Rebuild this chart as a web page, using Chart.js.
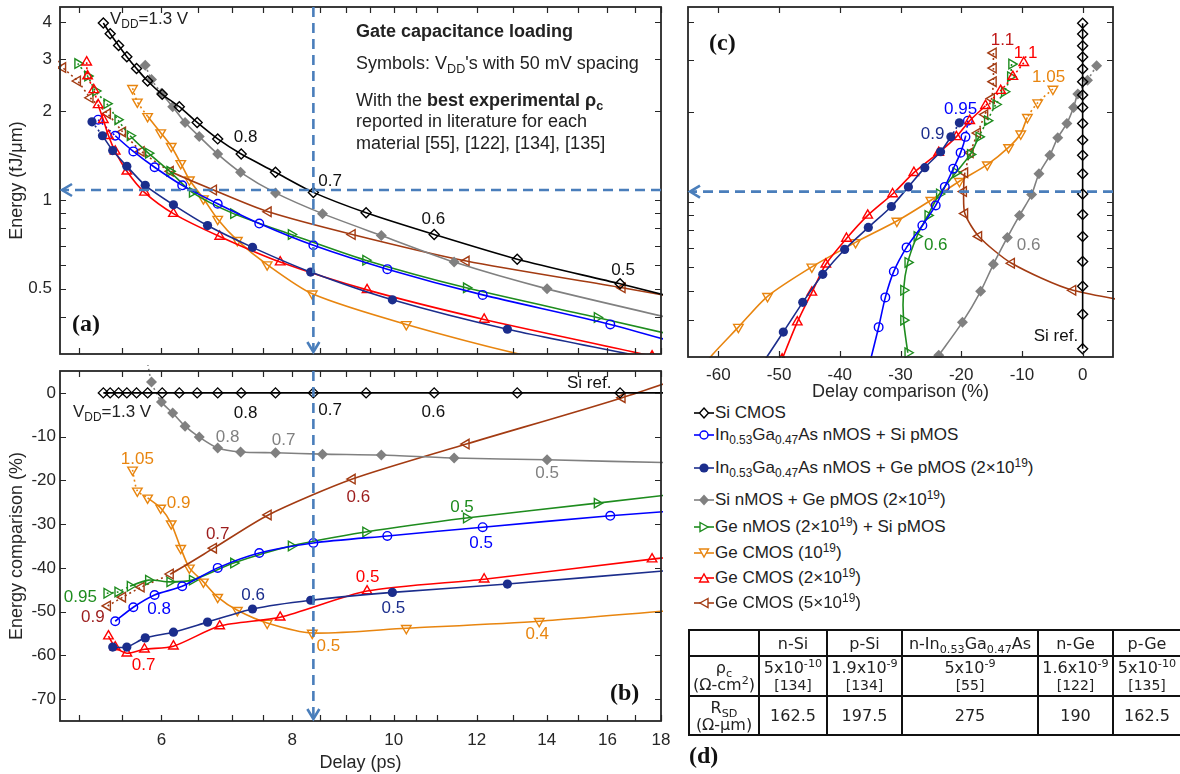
<!DOCTYPE html>
<html><head><meta charset="utf-8">
<script src="https://cdn.jsdelivr.net/npm/chart.js@4.4.1/dist/chart.umd.min.js"></script>
<style>
html,body{margin:0;padding:0;background:#fff;}
body{width:1180px;height:774px;position:relative;overflow:hidden;font-family:"Liberation Sans",Arial,sans-serif;color:#222;}
canvas{position:absolute;}
.t{position:absolute;white-space:nowrap;font-size:18px;line-height:20px;color:#222;}
.pl{position:absolute;font-family:"Liberation Serif","Times New Roman",serif;font-weight:bold;font-size:24px;line-height:26px;color:#111;}
sub{font-size:0.7em;vertical-align:-0.35em;line-height:0;}
sup{font-size:0.7em;vertical-align:0.5em;line-height:0;}
.lg{position:absolute;left:693px;white-space:nowrap;font-size:17px;line-height:20px;color:#222;}
.lg svg{vertical-align:-3px;}
#tbl{position:absolute;left:688px;top:629px;border-collapse:collapse;table-layout:fixed;width:492px;font-family:"DejaVu Sans",Verdana,sans-serif;font-size:16px;color:#222;}
#tbl td{border:2px solid #111;text-align:center;padding:0;line-height:17px;white-space:nowrap;}
#tbl .rf{font-size:14px;}
</style></head><body>
<canvas id="ca" width="680" height="362" style="left:0;top:0"></canvas>
<canvas id="cb" width="680" height="412" style="left:0;top:362px"></canvas>
<canvas id="cc" width="500" height="403" style="left:680px;top:0"></canvas>

<div class="t" style="left:110px;top:9px;font-size:17px">V<sub>DD</sub>=1.3 V</div>
<div class="t" style="left:356px;top:21px;font-weight:bold">Gate capacitance loading</div>
<div class="t" style="left:356px;top:53px">Symbols: V<sub>DD</sub>'s with 50 mV spacing</div>
<div class="t" style="left:356px;top:90px">With the <b>best experimental ρ<sub>c</sub></b></div>
<div class="t" style="left:356px;top:111px">reported in literature for each</div>
<div class="t" style="left:356px;top:133px">material [55], [122], [134], [135]</div>
<div class="pl" style="left:72px;top:310px">(a)</div>
<div class="t" style="left:73px;top:402px;font-size:17px">V<sub>DD</sub>=1.3 V</div>
<div class="pl" style="left:610px;top:679px">(b)</div>
<div class="pl" style="left:709px;top:29px">(c)</div>
<div class="pl" style="left:689px;top:742px">(d)</div>

<div class="lg" style="top:403px"><svg width="22" height="16"><line x1="1" y1="8" x2="21" y2="8" stroke="#000" stroke-width="1.6"/><polygon points="11,3 15.5,8 11,13 6.5,8" fill="#fff" stroke="#000" stroke-width="1.4"/></svg>Si CMOS</div>
<div class="lg" style="top:425px"><svg width="22" height="16"><line x1="1" y1="8" x2="21" y2="8" stroke="#0000ff" stroke-width="1.6"/><circle cx="11" cy="8" r="4" fill="#fff" stroke="#0000ff" stroke-width="1.4"/></svg>In<sub>0.53</sub>Ga<sub>0.47</sub>As nMOS + Si pMOS</div>
<div class="lg" style="top:458px"><svg width="22" height="16"><line x1="1" y1="8" x2="21" y2="8" stroke="#1b2d8c" stroke-width="1.6"/><circle cx="11" cy="8" r="4.6" fill="#1b2d8c"/></svg>In<sub>0.53</sub>Ga<sub>0.47</sub>As nMOS + Ge pMOS (2×10<sup>19</sup>)</div>
<div class="lg" style="top:490px"><svg width="22" height="16"><line x1="1" y1="8" x2="21" y2="8" stroke="#808080" stroke-width="1.6"/><polygon points="11,2.5 16,8 11,13.5 6,8" fill="#808080"/></svg>Si nMOS + Ge pMOS (2×10<sup>19</sup>)</div>
<div class="lg" style="top:517px"><svg width="22" height="16"><line x1="1" y1="8" x2="21" y2="8" stroke="#1e8c1e" stroke-width="1.6"/><polygon points="7,3.5 15,8 7,12.5" fill="#fff" stroke="#1e8c1e" stroke-width="1.4"/></svg>Ge nMOS (2×10<sup>19</sup>) + Si pMOS</div>
<div class="lg" style="top:543px"><svg width="22" height="16"><line x1="1" y1="8" x2="21" y2="8" stroke="#e8850f" stroke-width="1.6"/><polygon points="6.5,4 15.5,4 11,12" fill="#fff" stroke="#e8850f" stroke-width="1.4"/></svg>Ge CMOS (10<sup>19</sup>)</div>
<div class="lg" style="top:568px"><svg width="22" height="16"><line x1="1" y1="8" x2="21" y2="8" stroke="#ff0000" stroke-width="1.6"/><polygon points="6.5,12 15.5,12 11,4" fill="#fff" stroke="#ff0000" stroke-width="1.4"/></svg>Ge CMOS (2×10<sup>19</sup>)</div>
<div class="lg" style="top:593px"><svg width="22" height="16"><line x1="1" y1="8" x2="21" y2="8" stroke="#a33b12" stroke-width="1.6"/><polygon points="15,3.5 7,8 15,12.5" fill="#fff" stroke="#a33b12" stroke-width="1.4"/></svg>Ge CMOS (5×10<sup>19</sup>)</div>

<table id="tbl">
<colgroup><col style="width:70px"><col style="width:68px"><col style="width:75px"><col style="width:136px"><col style="width:75px"><col style="width:68px"></colgroup>
<tr style="height:26px"><td></td><td>n-Si</td><td>p-Si</td><td>n-In<sub>0.53</sub>Ga<sub>0.47</sub>As</td><td>n-Ge</td><td>p-Ge</td></tr>
<tr style="height:40px"><td>ρ<sub>c</sub><br>(Ω-cm<sup>2</sup>)</td><td>5x10<sup>-10</sup><br><span class="rf">[134]</span></td><td>1.9x10<sup>-9</sup><br><span class="rf">[134]</span></td><td>5x10<sup>-9</sup><br><span class="rf">[55]</span></td><td>1.6x10<sup>-9</sup><br><span class="rf">[122]</span></td><td>5x10<sup>-10</sup><br><span class="rf">[135]</span></td></tr>
<tr style="height:39px"><td>R<sub>SD</sub><br>(Ω-μm)</td><td>162.5</td><td>197.5</td><td>275</td><td>190</td><td>162.5</td></tr>
</table>

<script>
// ---------- DATA ----------
// Si CMOS
const siV      = [1.3,1.25,1.2,1.15,1.1,1.05,1.0,0.95,0.9,0.85,0.8,0.75,0.7,0.65,0.6,0.55,0.5,0.45,0.4];
const siDelay  = [5.28,5.36,5.46,5.56,5.68,5.82,6.01,6.24,6.49,6.79,7.15,7.71,8.38,9.41,10.93,13.12,16.45,21.0,29.0];
const siEnergy = [3.98,3.66,3.34,3.06,2.79,2.53,2.28,2.07,1.83,1.61,1.43,1.24,1.06,0.904,0.763,0.629,0.519,0.418,0.32];
const siECmp   = [0,0,0,0,0,0,0,0,0,0,0,0,0,0,0,0,0,0,0];
const siDCmp   = [0,0,0,0,0,0,0,0,0,0,0,0,0,0,0,0,0,0,0];
// In0.53Ga0.47As nMOS + Si pMOS
const igsV      = [0.95,0.9,0.85,0.8,0.75,0.7,0.65,0.6,0.55,0.5,0.45,0.4];
const igsDelay  = [5.22,5.42,5.64,5.91,6.28,6.79,7.44,8.38,9.86,12.16,16.1,21.0];
const igsEnergy = [1.87,1.65,1.46,1.29,1.12,0.97,0.831,0.701,0.582,0.476,0.378,0.29];
const igsECmp   = [null,-52.2,-49.0,-46.2,-44.2,-40.0,-36.6,-34.3,-32.7,-30.7,-28.1,-26.0];
const igsDCmp   = [-18.9,-19.3,-20.1,-21.3,-22.7,-24.2,-26.4,-29.0,-31.1,-32.5,-33.6,-35.0];
// In0.53Ga0.47As nMOS + Ge pMOS (2e19)
const iggV      = [0.95,0.9,0.85,0.8,0.75,0.7,0.65,0.6,0.55,0.5,0.45,0.4];
const iggDelay  = [5.15,5.27,5.39,5.56,5.79,6.16,6.64,7.33,8.33,9.97,12.84,18.5];
const iggEnergy = [1.84,1.65,1.47,1.30,1.12,0.962,0.818,0.69,0.569,0.458,0.364,0.28];
const iggECmp   = [null,null,-58.1,-58.1,-56.0,-54.7,-52.4,-49.4,-47.4,-45.6,-43.7,-40.5];
const iggDCmp   = [-20.3,-21.7,-23.4,-26.0,-28.7,-31.5,-35.3,-39.2,-42.8,-46.1,-49.3,-53.0];
// Si nMOS + Ge pMOS (2e19)
const sgV      = [1.1,1.05,1.0,0.95,0.9,0.85,0.8,0.75,0.7,0.65,0.6,0.55,0.5,0.45,0.4];
const sgDelay  = [5.79,5.87,6.0,6.15,6.32,6.52,6.79,7.14,7.71,8.55,9.73,11.42,14.01,18.6,25.0];
const sgEnergy = [2.86,2.56,2.30,2.07,1.83,1.64,1.43,1.24,1.056,0.898,0.757,0.615,0.499,0.393,0.304];
const sgECmp   = [10,2.5,-2.1,-4.6,-7.6,-10.1,-12.6,-13.5,-13.7,-14.0,-14.2,-14.9,-15.3,-16.0,-16.5];
const sgDCmp   = [2.3,0.8,-0.8,-1.5,-2.6,-4.1,-5.4,-7.2,-8.4,-10.4,-12.4,-14.7,-16.8,-19.8,-23.7];
// Ge nMOS (2e19) + Si pMOS
const gsV      = [1.1,1.05,1.0,0.95,0.9,0.85,0.8,0.75,0.7,0.65,0.6,0.55,0.5,0.45,0.4];
const gsDelay  = [4.99,5.10,5.19,5.32,5.45,5.60,5.83,6.11,6.42,7.03,7.98,9.40,11.73,15.64,21.3];
const gsEnergy = [2.90,2.63,2.34,2.12,1.87,1.65,1.44,1.25,1.06,0.898,0.763,0.624,0.503,0.399,0.31];
const gsECmp   = [null,null,null,-45.8,-45.5,-44.2,-42.8,-43.2,-42.8,-38.9,-35.0,-31.8,-28.6,-25.2,-21.5];
const gsDCmp   = [-11.7,-11.9,-12.9,-14.3,-15.7,-17.1,-18.5,-20.9,-23.6,-25.5,-27.3,-28.8,-29.5,-29.5,-28.8];
// Ge CMOS (1e19)
const g1V      = [1.05,1.0,0.95,0.9,0.85,0.8,0.75,0.7,0.65,0.6,0.55,0.5,0.45,0.4,0.35];
const g1Delay  = [5.63,5.69,5.82,5.99,6.13,6.26,6.38,6.58,6.79,7.09,7.57,8.36,10.28,13.77,20.0];
const g1Energy = [2.39,2.15,1.92,1.69,1.52,1.33,1.17,1.01,0.86,0.729,0.603,0.48,0.378,0.289,0.22];
const g1ECmp   = [-17.6,-22.4,-24.0,-26.3,-29.9,-35.5,-40.0,-43.2,-46.7,-49.7,-52.6,-54.9,-53.8,-52.2,-49.0];
const g1DCmp   = [-4.9,-7.4,-9.1,-10.2,-12.2,-15.7,-20.3,-25.0,-30.6,-37.4,-44.6,-51.9,-56.7,-62.0,-66.0];
// Ge CMOS (2e19)
const g2V      = [1.1,1.05,1.0,0.95,0.9,0.85,0.8,0.75,0.7,0.65,0.6,0.55,0.5,0.45,0.4,0.35];
const g2Delay  = [5.09,5.10,5.17,5.22,5.28,5.34,5.42,5.56,5.78,6.16,6.82,7.79,9.43,12.2,17.65,25.0];
const g2Energy = [2.93,2.63,2.36,2.10,1.87,1.65,1.46,1.25,1.06,0.898,0.751,0.615,0.495,0.393,0.295,0.22];
const g2ECmp   = [null,null,null,null,null,-55.6,-58.1,-59.5,-58.6,-57.9,-53.3,-51.3,-45.3,-42.6,-38.0,-34.0];
const g2DCmp   = [-9.7,-11.5,-13.5,-16.0,-18.6,-20.8,-23.7,-27.8,-31.3,-35.4,-38.9,-42.3,-44.6,-47.0,-49.5,-52.0];
// Ge CMOS (5e19)
const g5V      = [1.1,1.05,1.0,0.95,0.9,0.85,0.8,0.75,0.7,0.65,0.6,0.55,0.5,0.45];
const g5Delay  = [4.71,4.83,4.99,5.13,5.33,5.51,5.74,6.12,6.73,7.59,9.13,11.73,16.53,22.0];
const g5Energy = [3.16,2.81,2.53,2.22,1.96,1.70,1.46,1.25,1.08,0.911,0.763,0.62,0.503,0.42];
const g5ECmp   = [null,null,null,null,-48.7,-46.7,-44.4,-41.4,-35.5,-27.9,-19.7,-11.7,-1.1,9.0];
const g5DCmp   = [-14.7,-14.7,-14.7,-15.0,-16.1,-17.3,-18.5,-19.4,-19.6,-19.4,-17.1,-11.7,-1.6,20.0];

// guide (dashed arrows) values
const guideDelay = 8.38;
const guideEnergy = 1.08;

// axis ticks
const delayTickLabels = [6,8,10,12,14,16,18];
const delayTickMarks  = [5,5.5,6,6.5,7,7.5,8,8.5,9,9.5,10,10.5,11,12,13,14,15,16,17,18];
const energyTickLabels = [0.5,1,2,3,4];
const energyTickMarks  = [0.4,0.5,0.6,0.7,0.8,0.9,1,2,3,4];
const eCmpTicks = [-70,-60,-50,-40,-30,-20,-10,0];
const dCmpTicks = [-60,-50,-40,-30,-20,-10,0];

// ---------- series config (style) ----------
// n = number of plotted markers (remaining values only continue the curve)
// dot = dotted segments start at supply voltages >= this value
const series = [
  {name:'Si CMOS', v:siV, delay:siDelay, energy:siEnergy, eCmp:siECmp, dCmp:siDCmp, n:19, color:'#000000', shape:'rectRot', rot:0, fill:false, r:5, dot:9},
  {name:'Si nMOS + Ge pMOS', v:sgV, delay:sgDelay, energy:sgEnergy, eCmp:sgECmp, dCmp:sgDCmp, n:15, color:'#808080', shape:'rectRot', rot:0, fill:true, r:5.5, dot:1.05},
  {name:'InGaAs nMOS + Ge pMOS', v:iggV, delay:iggDelay, energy:iggEnergy, eCmp:iggECmp, dCmp:iggDCmp, n:11, color:'#1b2d8c', shape:'circle', rot:0, fill:true, r:4.6, dot:0.95},
  {name:'Ge CMOS 2e19', v:g2V, delay:g2Delay, energy:g2Energy, eCmp:g2ECmp, dCmp:g2DCmp, n:15, color:'#ff0000', shape:'triangle', rot:0, fill:false, r:5.5, dot:1.0},
  {name:'InGaAs nMOS + Si pMOS', v:igsV, delay:igsDelay, energy:igsEnergy, eCmp:igsECmp, dCmp:igsDCmp, n:11, color:'#0000ff', shape:'circle', rot:0, fill:false, r:4.3, dot:0.95},
  {name:'Ge nMOS + Si pMOS', v:gsV, delay:gsDelay, energy:gsEnergy, eCmp:gsECmp, dCmp:gsDCmp, n:15, color:'#1e8c1e', shape:'triangle', rot:90, fill:false, r:5.5, dot:0.9},
  {name:'Ge CMOS 5e19', v:g5V, delay:g5Delay, energy:g5Energy, eCmp:g5ECmp, dCmp:g5DCmp, n:13, color:'#a33b12', shape:'triangle', rot:270, fill:false, r:5.5, dot:0.8},
  {name:'Ge CMOS 1e19', v:g1V, delay:g1Delay, energy:g1Energy, eCmp:g1ECmp, dCmp:g1DCmp, n:14, color:'#e8850f', shape:'triangle', rot:180, fill:false, r:5.5, dot:1.0}
];

// annotation labels [x, y, text, color, align]
const aLabels = [
  [7.22,1.627,'0.8','#111'],[8.47,1.158,'0.7','#111','left'],[10.91,0.857,'0.6','#111'],[16.56,0.578,'0.5','#111']
];
const bLabels = [
  [15.37,2.3,'Si ref.','#111'],
  [7.22,-4.6,'0.8','#111'],[8.47,-3.9,'0.7','#111','left'],[10.91,-4.35,'0.6','#111'],
  [6.94,-10.1,'0.8','#808080'],[7.85,-10.8,'0.7','#808080'],[14.01,-18.3,'0.5','#808080'],
  [5.69,-15.1,'1.05','#e8850f'],[6.23,-25.2,'0.9','#e8850f'],[8.66,-57.9,'0.5','#e8850f'],[13.71,-55.1,'0.4','#e8850f'],
  [6.79,-32.3,'0.7','#9c1c1c'],[9.25,-23.8,'0.6','#9c1c1c'],[5.16,-51.3,'0.9','#9c1c1c'],
  [5.02,-46.7,'0.95','#1e8c1e'],[11.62,-26.1,'0.5','#1e8c1e'],
  [5.97,-49.4,'0.8','#0000ff'],[12.12,-34.3,'0.5','#0000ff'],
  [7.34,-46.2,'0.6','#1b2d8c'],[9.99,-49.2,'0.5','#1b2d8c'],
  [5.77,-62.2,'0.7','#ff0000'],[9.44,-42.1,'0.5','#ff0000']
];
const cLabels = [
  [-13.2,3.49,'1.1','#c01818'],[-9.4,3.16,'1.1','#ff0000'],[-5.6,2.625,'1.05','#e8850f'],
  [-20.1,2.05,'0.95','#0000ff'],[-24.7,1.677,'0.9','#1b2d8c'],
  [-24.2,0.712,'0.6','#1e8c1e'],[-8.9,0.712,'0.6','#808080'],[-4.4,0.352,'Si ref.','#111']
];

// ---------- helpers ----------
Chart.defaults.font.family = '"Liberation Sans", Arial, sans-serif';
Chart.defaults.color = '#262626';
const FONT_T = {size:17};
const FONT_TITLE = {size:18};

function makeDataset(s, xs, ys, clip) {
  const data = [];
  for (let i = 0; i < s.v.length; i++) {
    if (xs[i] == null || ys[i] == null) continue;
    data.push({x: xs[i], y: ys[i], v: s.v[i], m: i < s.n});
  }
  const fillCol = s.fill ? s.color : 'rgba(255,255,255,0)';
  return {
    label: s.name, data, showLine: true, tension: 0.25,
    borderColor: s.color, borderWidth: 1.6, backgroundColor: fillCol,
    pointStyle: s.shape, pointRotation: s.rot,
    pointRadius: ctx => (ctx.raw && ctx.raw.m) ? s.r : 0,
    pointHoverRadius: 0, pointHitRadius: 0,
    pointBorderColor: s.color, pointBorderWidth: s.fill ? 0 : 1.4,
    pointBackgroundColor: fillCol,
    segment: { borderDash: c => (data[c.p0DataIndex] && data[c.p0DataIndex].v >= s.dot) ? [2, 3] : undefined },
    clip: clip
  };
}
function framePlugin(xt, yt) {
  return { id: 'frame', afterDatasetsDraw(chart) {
    const {ctx, chartArea: a, scales: {x, y}} = chart;
    ctx.save();
    ctx.strokeStyle = '#262626'; ctx.lineWidth = 1.2; ctx.beginPath();
    xt.forEach(v => { const p = Math.round(x.getPixelForValue(v)) + 0.5; ctx.moveTo(p, a.bottom); ctx.lineTo(p, a.bottom - 6); ctx.moveTo(p, a.top); ctx.lineTo(p, a.top + 6); });
    yt.forEach(v => { const p = Math.round(y.getPixelForValue(v)) + 0.5; ctx.moveTo(a.left, p); ctx.lineTo(a.left + 6, p); ctx.moveTo(a.right, p); ctx.lineTo(a.right - 6, p); });
    ctx.stroke();
    ctx.lineWidth = 1.8;
    ctx.strokeRect(a.left, a.top, a.right - a.left, a.bottom - a.top);
    ctx.restore();
  }};
}
function labelPlugin(items) {
  return { id: 'vlabels', afterDatasetsDraw(chart) {
    const {ctx, scales: {x, y}} = chart;
    ctx.save();
    ctx.font = '17px "Liberation Sans", Arial, sans-serif';
    ctx.textBaseline = 'middle';
    items.forEach(([xv, yv, t, c, al]) => {
      ctx.fillStyle = c; ctx.textAlign = al || 'center';
      ctx.fillText(t, x.getPixelForValue(xv), y.getPixelForValue(yv));
    });
    ctx.restore();
  }};
}
function guidePlugin(vx, hy) {
  return { id: 'guides', afterDatasetsDraw(chart) {
    const {ctx, chartArea: a, scales: {x, y}} = chart;
    ctx.save();
    ctx.strokeStyle = '#4a7ebb'; ctx.lineWidth = 2.6; ctx.lineCap = 'butt';
    if (vx != null) {
      const px = x.getPixelForValue(vx);
      ctx.setLineDash([10, 6]); ctx.beginPath(); ctx.moveTo(px, a.top); ctx.lineTo(px, a.bottom - 2); ctx.stroke();
      ctx.setLineDash([]); ctx.beginPath(); ctx.moveTo(px - 6, a.bottom - 12); ctx.lineTo(px, a.bottom - 2); ctx.lineTo(px + 6, a.bottom - 12); ctx.stroke();
    }
    if (hy != null) {
      const py = y.getPixelForValue(hy);
      ctx.setLineDash([10, 6]); ctx.beginPath(); ctx.moveTo(a.right, py); ctx.lineTo(a.left + 2, py); ctx.stroke();
      ctx.setLineDash([]); ctx.beginPath(); ctx.moveTo(a.left + 12, py - 6); ctx.lineTo(a.left + 2, py); ctx.lineTo(a.left + 12, py + 6); ctx.stroke();
    }
    ctx.restore();
  }};
}
const setTicks = vals => s => { s.ticks = vals.map(v => ({value: v})); };
const fitTo = (w, h) => s => {
  if (w != null) s.width = w;
  if (h != null) s.height = h;
  s.paddingTop = 0; s.paddingBottom = 0; s.paddingLeft = 0; s.paddingRight = 0;
};
const baseOpts = {responsive: false, animation: false, events: [],
  plugins: {legend: {display: false}, tooltip: {enabled: false}}};

// ---------- (a) energy vs delay ----------
new Chart(document.getElementById('ca'), {
  type: 'scatter',
  data: {datasets: series.map(s => makeDataset(s, s.delay, s.energy, {left: 2, top: 6, right: 2, bottom: 0}))},
  options: Object.assign({}, baseOpts, {
    layout: {padding: {left: 0, top: 7, right: 19, bottom: 0}},
    scales: {
      x: {type: 'logarithmic', min: 4.8, max: 18, grid: {display: false, drawTicks: false}, border: {display: false},
          ticks: {display: false}, afterBuildTicks: setTicks(delayTickLabels), afterFit: fitTo(null, 8)},
      y: {type: 'logarithmic', min: 0.309, max: 4.51, grid: {display: false, drawTicks: false}, border: {display: false},
          ticks: {font: FONT_T, padding: 8, callback: v => String(v)}, afterBuildTicks: setTicks(energyTickLabels),
          title: {display: true, text: 'Energy (fJ/μm)', font: FONT_TITLE, padding: {top: 6, bottom: 0}},
          afterFit: fitTo(60, null)}
    }
  }),
  plugins: [framePlugin(delayTickMarks, energyTickMarks), labelPlugin(aLabels), guidePlugin(guideDelay, guideEnergy)]
});

// ---------- (b) energy comparison vs delay ----------
new Chart(document.getElementById('cb'), {
  type: 'scatter',
  data: {datasets: series.map(s => makeDataset(s, s.delay, s.eCmp, {left: 2, top: 6, right: 2, bottom: 2}))},
  options: Object.assign({}, baseOpts, {
    layout: {padding: {left: 0, top: 9, right: 19, bottom: 0}},
    scales: {
      x: {type: 'logarithmic', min: 4.8, max: 18, grid: {display: false, drawTicks: false}, border: {display: false},
          ticks: {font: FONT_T, padding: 9, maxRotation: 0, autoSkip: false, callback: v => String(v)},
          afterBuildTicks: setTicks(delayTickLabels),
          title: {display: true, text: 'Delay (ps)', font: FONT_TITLE, padding: {top: 0, bottom: 0}},
          afterFit: fitTo(null, 53)},
      y: {type: 'linear', min: -75, max: 5, grid: {display: false, drawTicks: false}, border: {display: false},
          ticks: {font: FONT_T, padding: 4, callback: v => String(v)}, afterBuildTicks: setTicks(eCmpTicks),
          title: {display: true, text: 'Energy comparison (%)', font: FONT_TITLE, padding: {top: 6, bottom: 0}},
          afterFit: fitTo(60, null)}
    }
  }),
  plugins: [framePlugin(delayTickMarks, eCmpTicks), labelPlugin(bLabels), guidePlugin(guideDelay, null)]
});

// ---------- (c) energy vs delay comparison ----------
new Chart(document.getElementById('cc'), {
  type: 'scatter',
  data: {datasets: series.map(s => makeDataset(s, s.dCmp, s.energy, {left: 2, top: 6, right: 2, bottom: 1}))},
  options: Object.assign({}, baseOpts, {
    layout: {padding: {left: 0, top: 7, right: 67, bottom: 0}},
    scales: {
      x: {type: 'linear', min: -65, max: 5, grid: {display: false, drawTicks: false}, border: {display: false},
          ticks: {font: FONT_T, padding: 8, maxRotation: 0, autoSkip: false, callback: v => String(v)},
          afterBuildTicks: setTicks(dCmpTicks),
          title: {display: true, text: 'Delay comparison (%)', font: FONT_TITLE, padding: {top: 0, bottom: 0}},
          afterFit: fitTo(null, 46)},
      y: {type: 'logarithmic', min: 0.302, max: 4.51, grid: {display: false, drawTicks: false}, border: {display: false},
          ticks: {display: false}, afterBuildTicks: setTicks(energyTickLabels), afterFit: fitTo(8, null)}
    }
  }),
  plugins: [framePlugin(dCmpTicks, energyTickMarks), labelPlugin(cLabels), guidePlugin(null, guideEnergy)]
});
</script>
</body></html>
